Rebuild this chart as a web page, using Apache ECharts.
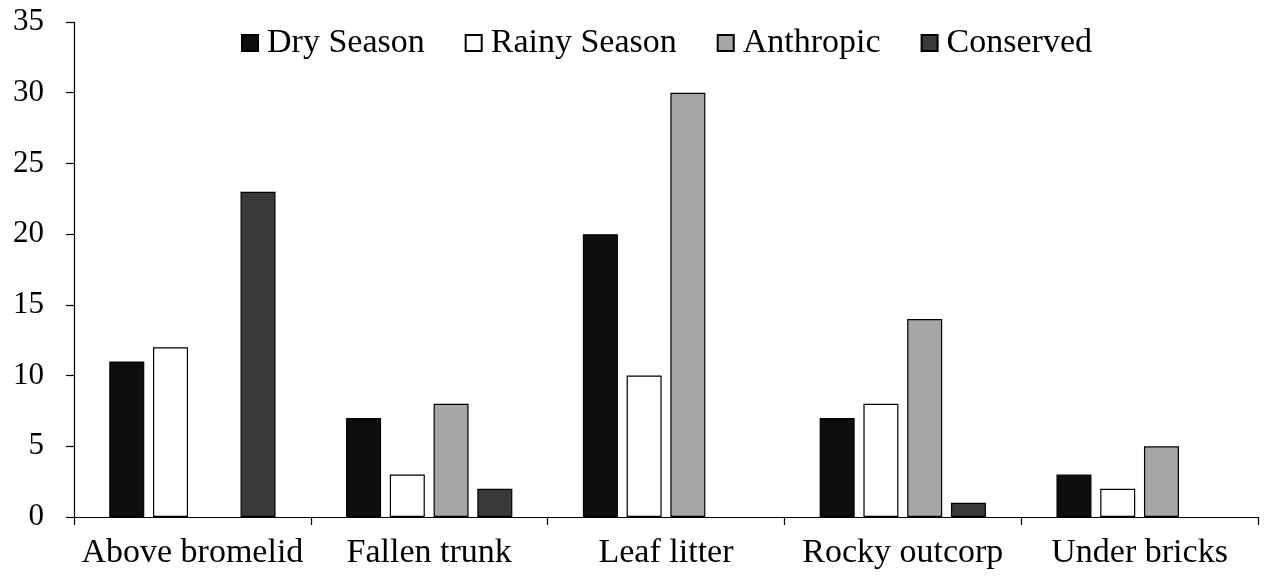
<!DOCTYPE html>
<html>
<head>
<meta charset="utf-8">
<script src="https://cdn.jsdelivr.net/npm/echarts@6/dist/echarts.min.js"></script>
<style>
  html, body { margin: 0; padding: 0; background: #fff; }
  #chart { width: 1265px; height: 578px; }
</style>
</head>
<body>
<div id="chart"></div>
<script>
const categories = ["Above bromelid", "Fallen trunk", "Leaf litter", "Rocky outcorp", "Under bricks"];
const drySeason = [11, 7, 20, 7, 3];
const rainySeason = [12, 3, 10, 8, 2];
const anthropic = [null, 8, 30, 14, 5];
const conserved = [23, 2, null, 1, null];

const font = "Liberation Serif";

function barSeries(name, data, color) {
  return {
    name: name,
    type: "bar",
    data: data,
    barWidth: 35,
    barGap: "25%",
    itemStyle: { color: color, borderColor: "#000", borderWidth: 1.2 },
  };
}

const chart = echarts.init(document.getElementById("chart"));
chart.setOption({
  animation: false,
  textStyle: { fontFamily: font, color: "#000" },
  grid: { left: 74, right: 7, top: 22, bottom: 61 },
  legend: {
    top: 21,
    left: 236,
    itemWidth: 16,
    itemHeight: 16,
    itemGap: 40,
    icon: "rect",
    textStyle: { fontFamily: font, fontSize: 34, color: "#000", padding: [0, 0, 0, 4] },
    data: ["Dry Season", "Rainy Season", "Anthropic", "Conserved"],
  },
  xAxis: {
    type: "category",
    data: categories,
    axisLine: { lineStyle: { color: "#000", width: 1.2 } },
    axisTick: { show: true, length: 8, lineStyle: { color: "#000", width: 1.2 } },
    axisLabel: { interval: 0, fontFamily: font, fontSize: 34, color: "#000", margin: 19 },
  },
  yAxis: {
    type: "value",
    min: 0,
    max: 35,
    interval: 5,
    splitLine: { show: false },
    axisLine: { show: true, lineStyle: { color: "#000", width: 1.2 } },
    axisTick: { show: true, length: 8, lineStyle: { color: "#000", width: 1.2 } },
    axisLabel: { fontFamily: font, fontSize: 31, color: "#000", margin: 30 },
  },
  series: [
    barSeries("Dry Season", drySeason, "#0d0d0d"),
    barSeries("Rainy Season", rainySeason, "#ffffff"),
    barSeries("Anthropic", anthropic, "#a6a6a6"),
    barSeries("Conserved", conserved, "#3a3838"),
  ],
});
</script>
</body>
</html>
